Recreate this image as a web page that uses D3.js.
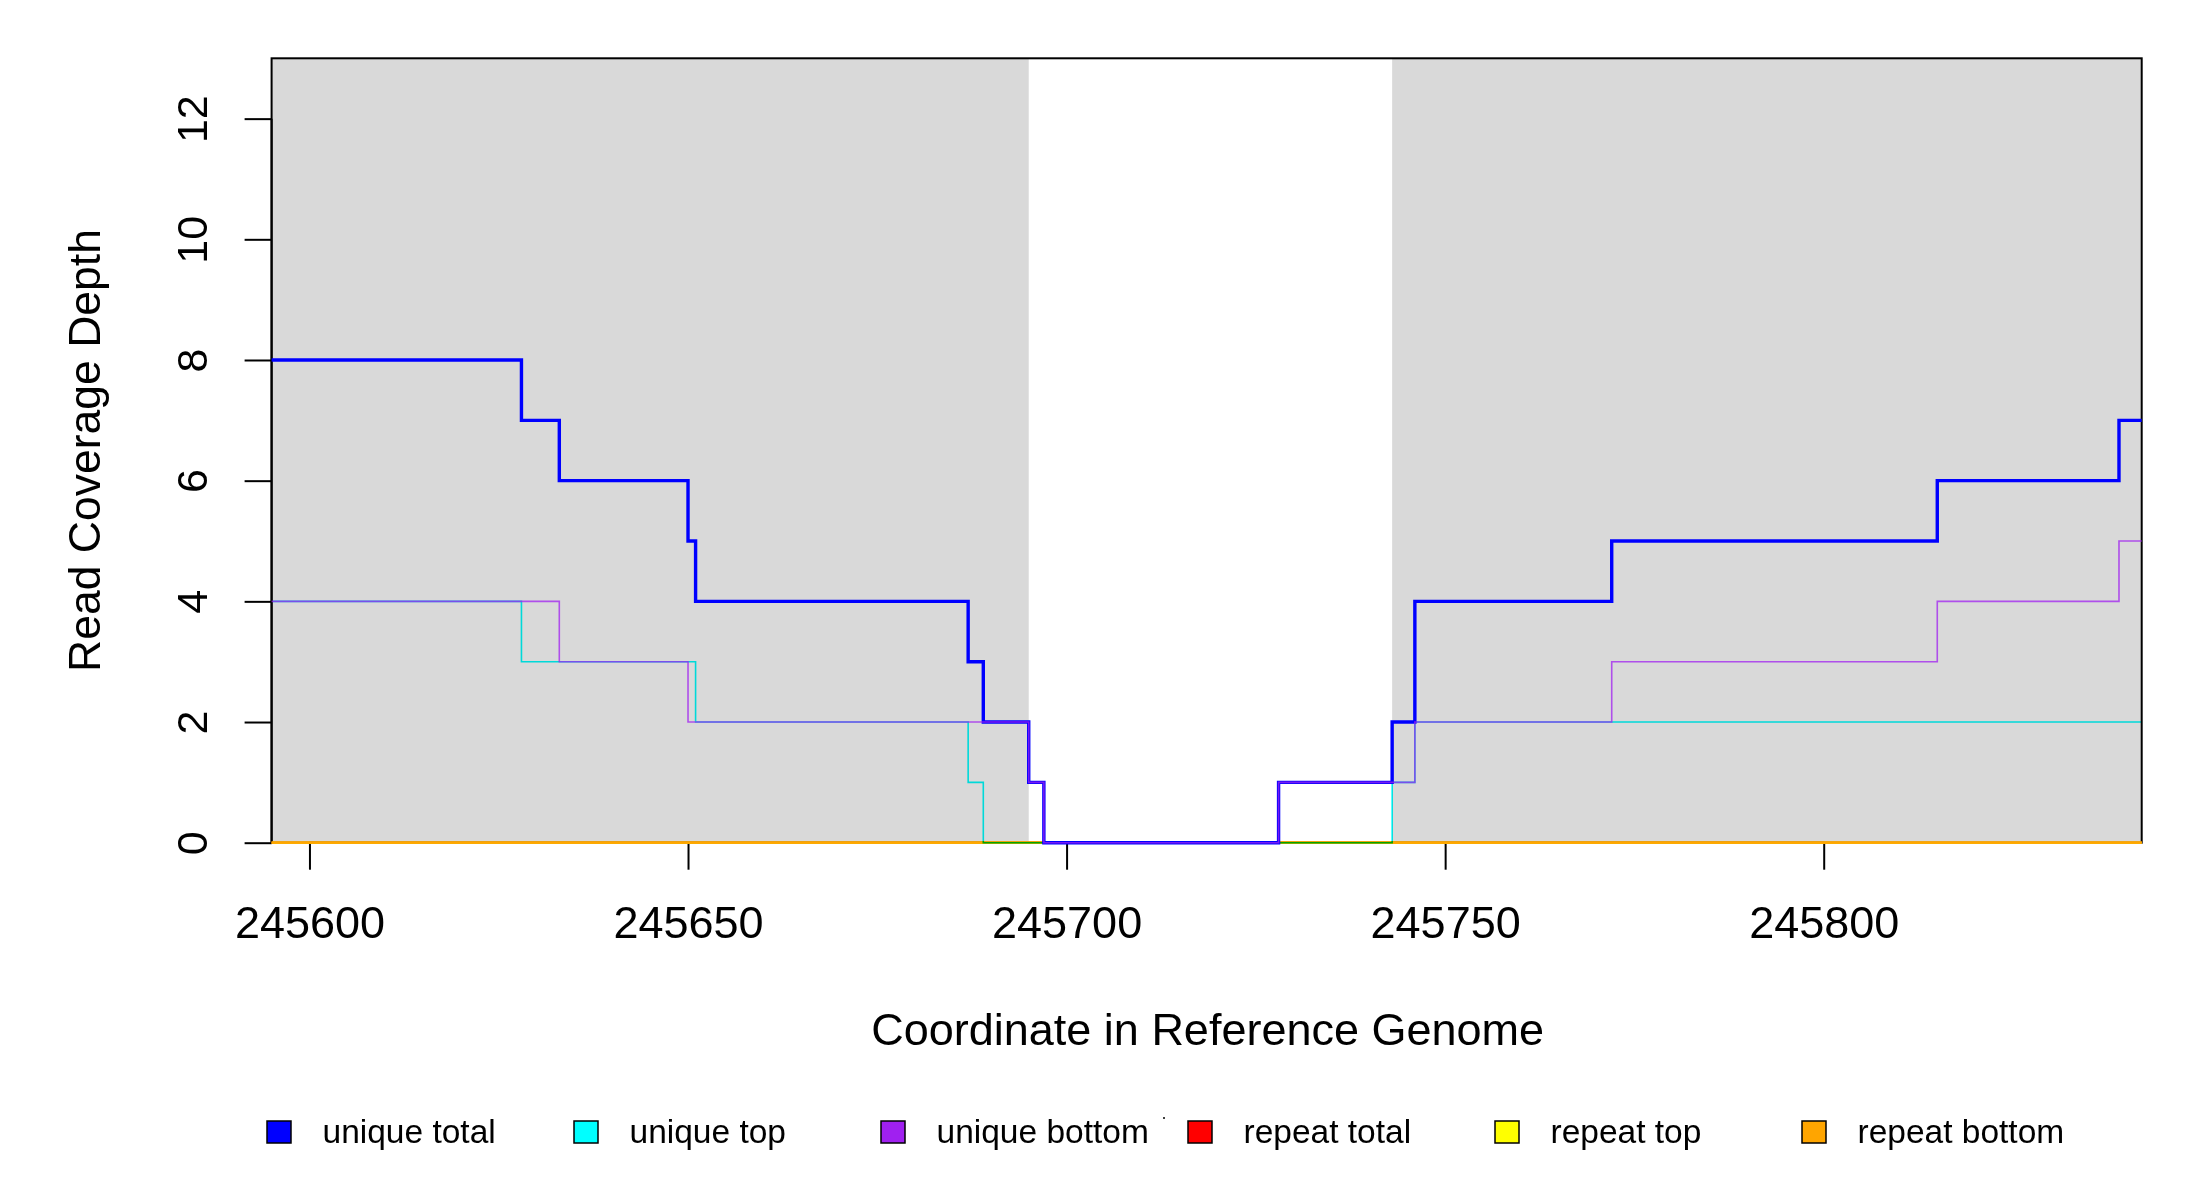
<!DOCTYPE html>
<html>
<head>
<meta charset="utf-8">
<script src="https://cdn.jsdelivr.net/npm/d3@7"></script>
<style>
  html, body { margin: 0; padding: 0; background: #fff; }
  svg { display: block; }
  text { font-family: "Liberation Sans", Arial, sans-serif; fill: #000; }
</style>
</head>
<body>
<svg id="chart" width="2200" height="1200"></svg>
<script>
// ---- data ----
const xDomain = [245595, 245842];
const yDomain = [0, 13];
const xTicks = [245600, 245650, 245700, 245750, 245800];
const yTicks = [0, 2, 4, 6, 8, 10, 12];
const shadedRegions = [[245595, 245695], [245743, 245842]];

const uniqueTotalX = [245595, 245628, 245633, 245650, 245651, 245687, 245689, 245695, 245697, 245728, 245743, 245746, 245772, 245815, 245839, 245842];
const uniqueTotalY = [8, 7, 6, 5, 4, 3, 2, 1, 0, 1, 2, 4, 5, 6, 7, 7];
const uniqueTopX = [245595, 245628, 245651, 245687, 245689, 245743, 245746, 245842];
const uniqueTopY = [4, 3, 2, 1, 0, 1, 2, 2];
const uniqueBottomX = [245595, 245633, 245650, 245695, 245697, 245728, 245746, 245772, 245815, 245839, 245842];
const uniqueBottomY = [4, 3, 2, 1, 0, 1, 2, 3, 4, 5, 5];
const repeatTotalX = [245595, 245842];
const repeatTotalY = [0, 0];
const repeatTopX = [245595, 245842];
const repeatTopY = [0, 0];
const repeatBottomX = [245595, 245842];
const repeatBottomY = [0, 0];

const legendLabels = ["unique total", "unique top", "unique bottom", "repeat total", "repeat top", "repeat bottom"];
const legendColors = ["#0000ff", "#00ffff", "#a020f0", "#ff0000", "#ffff00", "#ffa500"];

// ---- layout ----
const svg = d3.select("#chart");
const pL = 271.6, pR = 2141.7, pT = 58.3, pB = 842.7;
const x = d3.scaleLinear().domain(xDomain).range([pL, pR]);
const y = d3.scaleLinear().domain(yDomain).range([pB, pT]);
const FONT = "'Liberation Sans', Arial, sans-serif";

// shaded regions
svg.append("g").selectAll("rect").data(shadedRegions).join("rect")
  .attr("x", d => x(d[0])).attr("width", d => x(d[1]) - x(d[0]))
  .attr("y", pT).attr("height", pB - pT)
  .attr("fill", "#d9d9d9");

// box
svg.append("rect")
  .attr("x", pL).attr("y", pT).attr("width", pR - pL).attr("height", pB - pT)
  .attr("fill", "none").attr("stroke", "#000").attr("stroke-width", 2);

// axes (drawn before the lines so the lines sit on top)
const xAxis = svg.append("g").attr("transform", `translate(0,${pB})`)
  .call(d3.axisBottom(x).tickValues(xTicks).tickSize(27).tickPadding(0).tickFormat(d3.format("d")));
xAxis.select(".domain").attr("d", `M${x(xTicks[0])},0H${x(xTicks[xTicks.length-1])}`).attr("stroke", "#000").attr("stroke-width", 2);
xAxis.selectAll(".tick line").attr("stroke", "#000").attr("stroke-width", 2);
xAxis.selectAll(".tick text").attr("y", 95).attr("dy", null)
  .style("font-size", "45px").style("font-family", FONT).attr("fill", "#000");

const yAxis = svg.append("g").attr("transform", `translate(${pL},0)`)
  .call(d3.axisLeft(y).tickValues(yTicks).tickSize(27).tickFormat(d3.format("d")));
yAxis.select(".domain").attr("d", `M0,${y(yTicks[0])}V${y(yTicks[yTicks.length-1])}`).attr("stroke", "#000").attr("stroke-width", 2);
yAxis.selectAll(".tick line").attr("stroke", "#000").attr("stroke-width", 2);
yAxis.selectAll(".tick text")
  .attr("x", null).attr("dy", null)
  .attr("text-anchor", "middle")
  .attr("transform", `translate(${207 - pL},0) rotate(-90)`)
  .style("font-size", "43px").style("font-family", FONT).attr("fill", "#000");

// coverage lines
const line = d3.line().x(d => x(d[0])).y(d => y(d[1])).curve(d3.curveStepAfter);
const zip = (a, b) => a.map((v, i) => [v, b[i]]);

const series = [
  { xs: repeatTotalX, ys: repeatTotalY, color: legendColors[3], w: 2.2, op: 1, blend: "normal" },
  { xs: repeatTopX, ys: repeatTopY, color: legendColors[4], w: 2.2, op: 1, blend: "normal" },
  { xs: repeatBottomX, ys: repeatBottomY, color: legendColors[5], w: 2.2, op: 1, blend: "normal" },
  { xs: uniqueTotalX, ys: uniqueTotalY, color: legendColors[0], w: 3.4, op: 1, blend: "normal" },
  { xs: uniqueTopX, ys: uniqueTopY, color: legendColors[1], w: 1.6, op: 1, blend: "multiply" },
  { xs: uniqueBottomX, ys: uniqueBottomY, color: legendColors[2], w: 1.6, op: 0.75, blend: "normal" }
];

svg.append("g").selectAll("path").data(series).join("path")
  .attr("d", d => line(zip(d.xs, d.ys)))
  .attr("fill", "none")
  .attr("stroke", d => d.color)
  .attr("stroke-width", d => d.w)
  .attr("stroke-opacity", d => d.op)
  .style("mix-blend-mode", d => d.blend);

// axis titles
svg.append("text").attr("x", (pL + pR) / 2 + 1).attr("y", 1045)
  .attr("text-anchor", "middle").style("font-size", "45px")
  .text("Coordinate in Reference Genome");
svg.append("text").attr("transform", `translate(100,${(pT + pB) / 2}) rotate(-90)`)
  .attr("text-anchor", "middle").style("font-size", "44.5px")
  .text("Read Coverage Depth");

// legend
const lg = svg.append("g").selectAll("g").data(legendLabels).join("g")
  .attr("transform", (d, i) => `translate(${279 + i * 307},1132)`);
lg.append("rect").attr("x", -12).attr("y", -11).attr("width", 24).attr("height", 22)
  .attr("fill", (d, i) => legendColors[i]).attr("stroke", "#000").attr("stroke-width", 1.5);
lg.append("text").attr("x", 43.5).attr("y", 11).style("font-size", "33.5px").text(d => d);
svg.append("circle").attr("cx", 1164).attr("cy", 1118).attr("r", 1).attr("fill", "#000");
</script>
</body>
</html>
